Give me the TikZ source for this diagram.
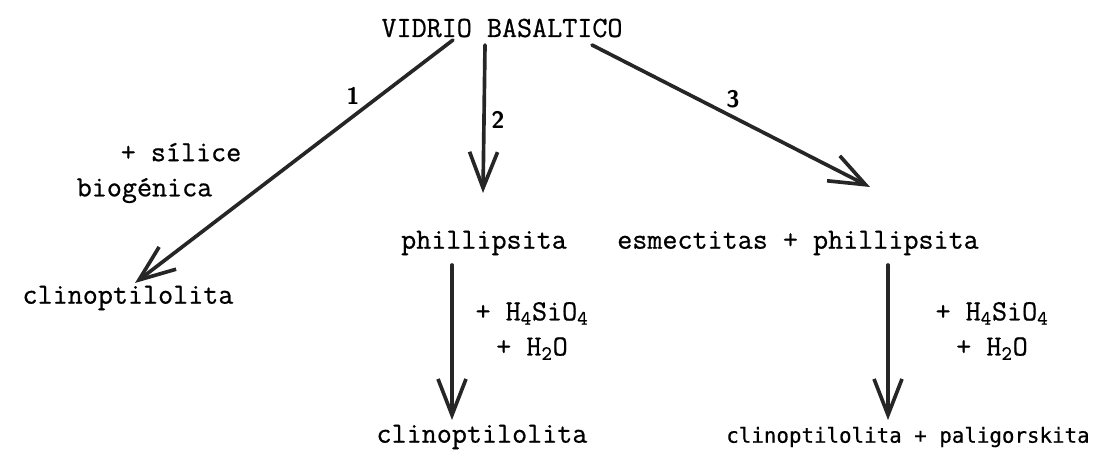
\documentclass[tikz,border=0pt]{standalone}
\usepackage{fontspec}
\usepackage{tikz}
\usetikzlibrary{arrows.meta,calc}
\newfontfamily\typew[FakeBold=0.7]{Latin Modern Mono}
\newfontfamily\condmono[FakeBold=0.5]{DejaVu Sans Mono}
\tikzset{
  vb diagram/.style={x=0.025cm, y=-0.025cm, line cap=round, line join=round,
    font=\typew\fontsize{20.8}{25}\selectfont},
  vb mineral/.style={inner sep=1pt},
  vb reagent/.style={inner sep=1pt, align=center},
  vb arrow/.style={-{Straight Barb[length=9mm,width=7mm,line width=2.6pt]},
    line width=2.6pt, draw=black!85},
  vb num/.style={font=\sffamily\bfseries\fontsize{17}{20}\selectfont, inner sep=1pt}
}
\begin{document}
\begin{tikzpicture}[vb diagram]
\useasboundingbox (0,0) rectangle (1103,457);
% minerals
\node[vb mineral] (vidrio) at (502,28) {VIDRIO BASALTICO};
\node[vb mineral] (clinoA) at (128,298) {clinoptilolita};
\node[vb mineral] (phil) at (484,243) {phillipsita};
\node[vb mineral] (esme) at (798,243) {esmectitas + phillipsita};
\node[vb mineral, font=\condmono\fontsize{14.8}{18}\selectfont] (clinoC) at (908,437)
  {clinoptilolita + paligorskita};
\node[vb mineral] (clinoB) at (482,437) {clinoptilolita};
% reagents
\node[vb reagent, align=left] (silice) at (159,173) {\hspace*{1.1cm}+ sílice\\biogénica};
\node[vb reagent] (reacA) at (532,331) {+ H\textsubscript{4}SiO\textsubscript{4}\\+ H\textsubscript{2}O};
\node[vb reagent] (reacB) at (992,331) {+ H\textsubscript{4}SiO\textsubscript{4}\\+ H\textsubscript{2}O};
% paths
\node[vb num] (num1) at (353,96) {1};
\node[vb num] (num2) at (498,120) {2};
\node[vb num] (num3) at (733,99) {3};
\draw[vb arrow] ($(vidrio.center)+(-49,12)$) -- ($(clinoA.center)+(7,-15)$);
\draw[vb arrow] ($(vidrio.center)+(-17,17)$) -- ($(phil.center)+(-1,-50)$);
\draw[vb arrow] ($(vidrio.center)+(90,17)$) -- ($(esme.center)+(72,-56)$);
\draw[vb arrow] ($(phil.center)+(-32,22)$) -- ($(clinoB.center)+(-30,-17)$);
\draw[vb arrow] ($(esme.center)+(90,22)$) -- ($(clinoC.center)+(-20,-17)$);
\end{tikzpicture}
\end{document}
